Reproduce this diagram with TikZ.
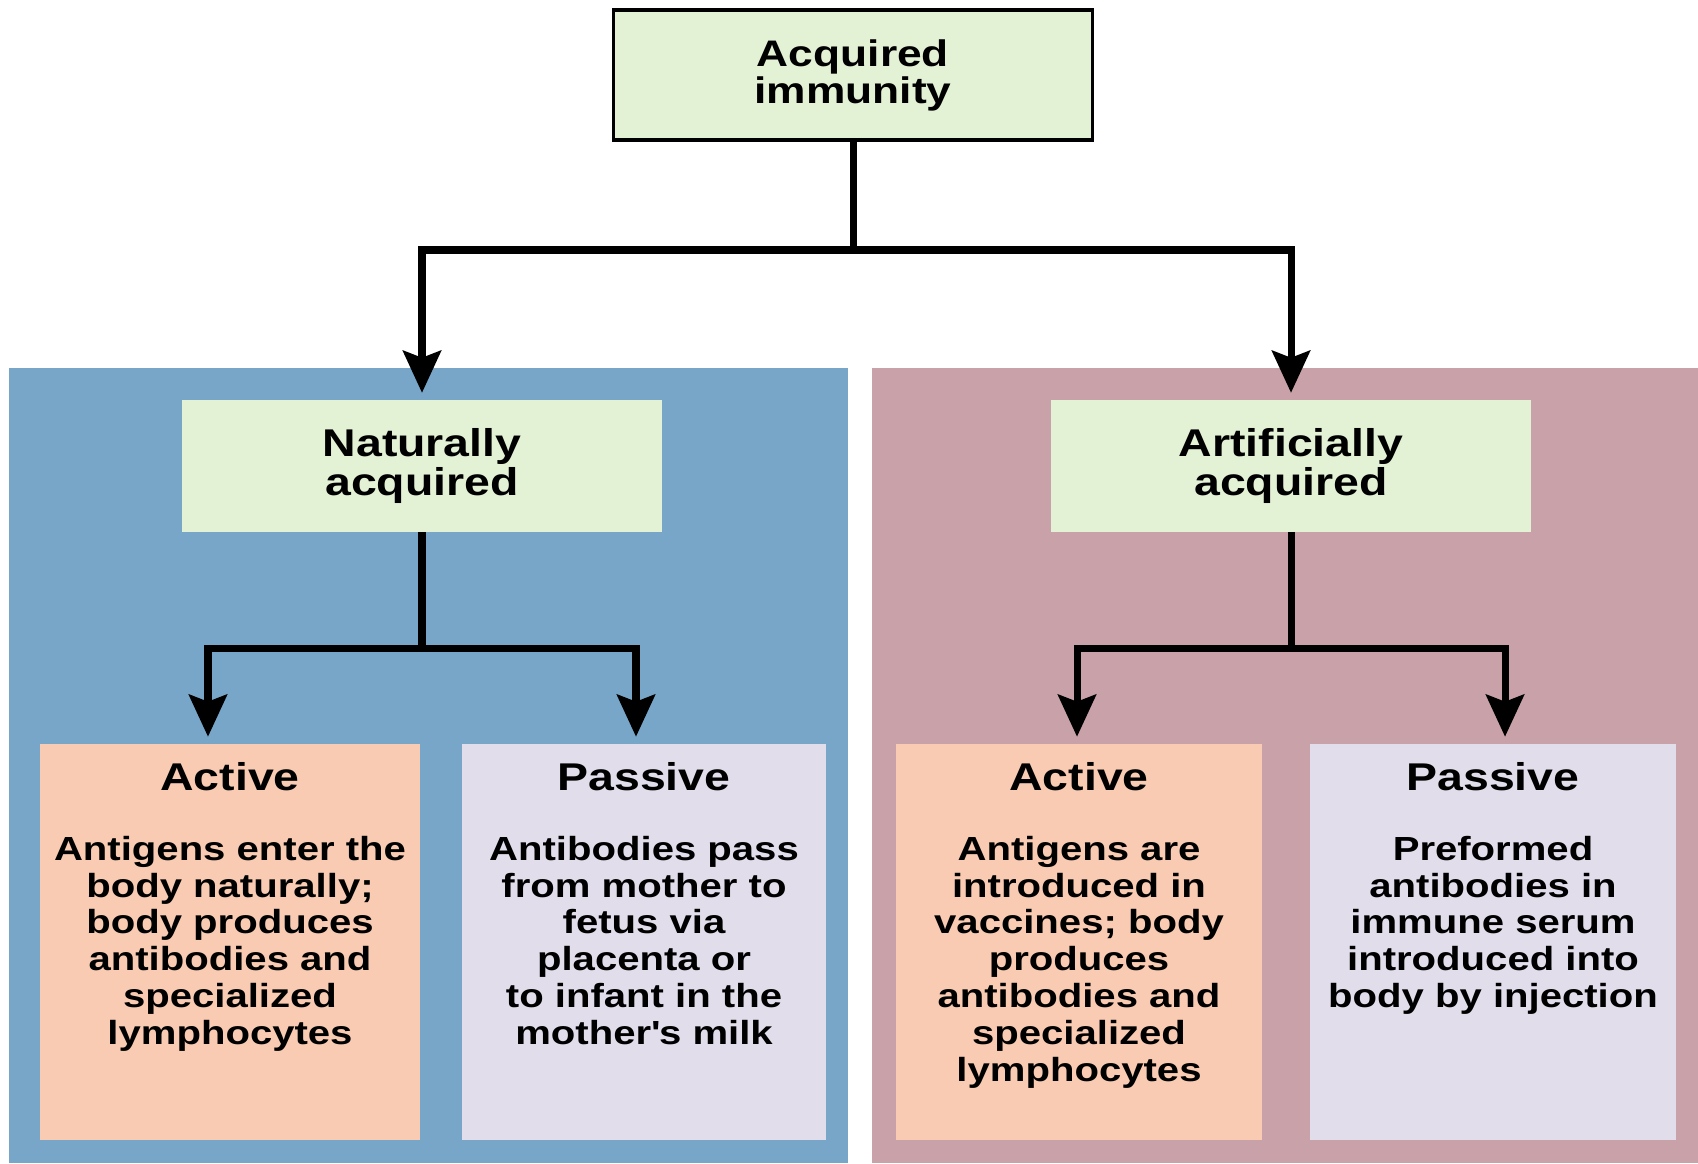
\documentclass[tikz,border=0pt]{standalone}
\usepackage{fontspec}
\setmainfont{Liberation Sans}[FakeStretch=1.2]
\usetikzlibrary{arrows.meta,positioning}
\definecolor{boxgreen}{HTML}{E3F1D5}
\definecolor{panelblue}{HTML}{78A6C8}
\definecolor{panelpink}{HTML}{C8A2A8}
\definecolor{boxpeach}{HTML}{F8CBB2}
\definecolor{boxlilac}{HTML}{E2DDEB}
\tikzset{
  topbox/.style={draw=black,line width=0.9pt,fill=boxgreen,minimum width=4.78cm,minimum height=1.3cm,
    align=center,font=\fontsize{10.5}{10.5}\selectfont\bfseries},
  midbox/.style={fill=boxgreen,minimum width=4.79cm,minimum height=1.31cm,
    align=center,font=\fontsize{11}{9.6}\selectfont\bfseries},
  kindbox/.style={minimum height=3.95cm,inner sep=0pt},
  kindtext/.style={anchor=north,align=center,inner sep=0pt,font=\fontsize{9.5}{10.5}\selectfont\bfseries},
  conn/.style={line width=2pt,black},
  arr/.style={conn,-{Stealth[length=0.42cm,width=0.38cm,inset=0.07cm]},shorten >=0.07cm}
}
\begin{document}
\begin{tikzpicture}[x=0.01cm,y=-0.01cm]
\useasboundingbox (0,0) rectangle (1698,1163);
% panels
\fill[panelblue] (9,368) rectangle (848,1163);
\fill[panelpink] (872,368) rectangle (1698,1163);
% boxes
\node[topbox] (acq) at (853,75) {Acquired\\immunity};
\node[midbox] (nat) at (422,466) {Naturally\\acquired};
\node[midbox] (art) at (1291,466) {Artificially\\acquired};
\node[kindbox,fill=boxpeach,minimum width=3.8cm] (natact) at (230,942) {};
\node[kindbox,fill=boxlilac,minimum width=3.63cm] (natpas) at (644,942) {};
\node[kindbox,fill=boxpeach,minimum width=3.65cm] (artact) at (1079,942) {};
\node[kindbox,fill=boxlilac,minimum width=3.66cm] (artpas) at (1493,942) {};
% texts
\node[kindtext,below=0.18cm of natact.north] (natacttxt)
  {{\fontsize{11}{10.5}\selectfont Active}\\[9.3pt]Antigens enter the\\body naturally;\\body produces\\antibodies and\\specialized\\lymphocytes};
\node[kindtext,below=0.18cm of natpas.north] (natpastxt)
  {{\fontsize{11}{10.5}\selectfont Passive}\\[9.3pt]Antibodies pass\\from mother to\\fetus via\\placenta or\\to infant in the\\mother\textquotesingle s milk};
\node[kindtext,below=0.18cm of artact.north] (artacttxt)
  {{\fontsize{11}{10.5}\selectfont Active}\\[9.3pt]Antigens are\\introduced in\\vaccines; body\\produces\\antibodies and\\specialized\\lymphocytes};
\node[kindtext,below=0.18cm of artpas.north] (artpastxt)
  {{\fontsize{11}{10.5}\selectfont Passive}\\[9.3pt]Preformed\\antibodies in\\immune serum\\introduced into\\body by injection};
% connectors
\coordinate (j1) at (853,250);
\coordinate (j2) at (422,648);
\coordinate (j3) at (1291,648);
\draw[conn] (acq) -- (j1);
\draw[arr] (j1) -| (nat);
\draw[arr] (j1) -| (art);
\draw[conn] (nat) -- (j2);
\draw[arr] (j2) -| ([xshift=-0.22cm]natact.north);
\draw[arr] (j2) -| ([xshift=-0.08cm]natpas.north);
\draw[conn] (art) -- (j3);
\draw[arr] (j3) -| ([xshift=-0.02cm]artact.north);
\draw[arr] (j3) -| ([xshift=0.12cm]artpas.north);
\end{tikzpicture}
\end{document}
